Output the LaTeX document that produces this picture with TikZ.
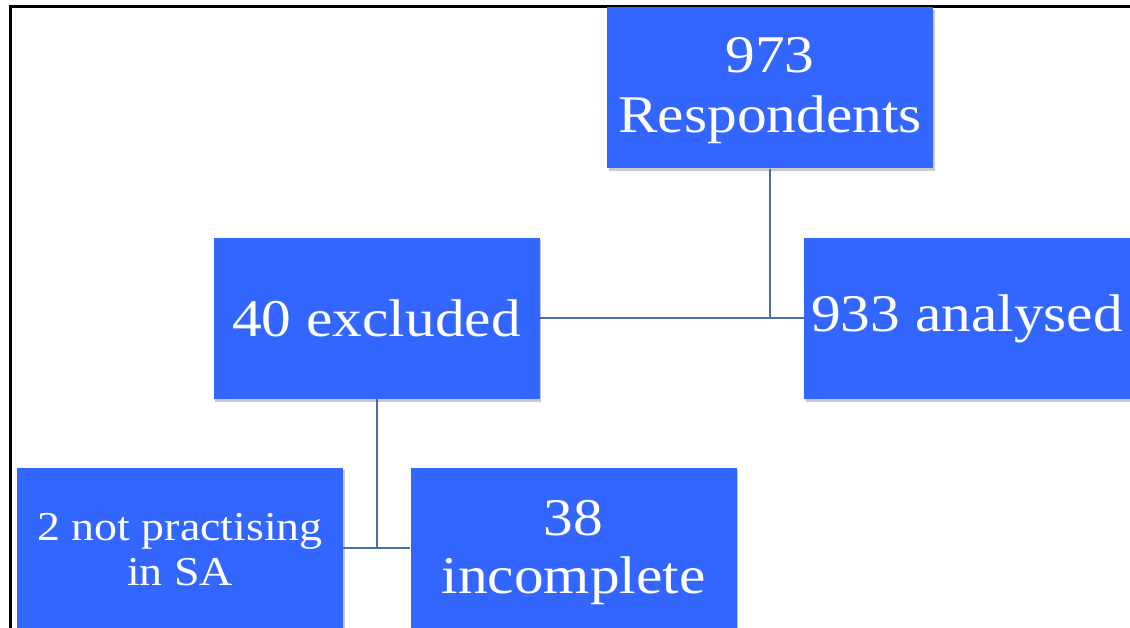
\documentclass[tikz,border=0pt]{standalone}
\usepackage{fontspec}
\setmainfont{Liberation Serif}[FakeStretch=1.12]
\usetikzlibrary{shadows}
\definecolor{boxblue}{RGB}{51,102,255}
\definecolor{linkblue}{RGB}{74,111,165}
\tikzset{
  box/.style={fill=boxblue, minimum width=326pt, minimum height=161pt, inner sep=0pt,
    drop shadow={shadow xshift=1.5pt, shadow yshift=-2.5pt, opacity=0.35, fill=black!60}},
  boxtext/.style={text=white, align=center, inner sep=0pt},
  bigtext/.style={font=\fontsize{53}{60}\selectfont},
  smalltext/.style={font=\fontsize{41}{45}\selectfont},
  link/.style={draw=linkblue, line width=2pt},
  frame/.style={draw=black, line width=3pt}
}
\begin{document}
\begin{tikzpicture}[x=1pt,y=-1pt]
\useasboundingbox (0,0) rectangle (1130,628);
\clip (0,0) rectangle (1130,628);
\fill[white] (0,0) rectangle (1130,628);
\coordinate (fa) at (10,628);
\coordinate (fb) at (10,7);
\coordinate (fc) at (1131,7);
\draw[frame] (fa) -- (fb) -- (fc);
\node[box] (resp) at (770,88) {};
\node[box] (excl) at (376.5,318.5) {};
\node[box] (anal) at (967,318.5) {};
\node[box] (notp) at (180,548) {};
\node[box] (inc) at (573.5,548) {};
\node[boxtext, bigtext] (respt) at ([yshift=-3pt]resp.center) {973\\Respondents};
\node[boxtext, bigtext] (exclt) at (excl.center) {40 excluded};
\node[boxtext, bigtext] (analt) at (anal.center) {933 analysed};
\node[boxtext, smalltext] (notpt) at ([yshift=-2pt]notp.center) {2 not practising\\in SA};
\node[boxtext, font=\fontsize{53}{58}\selectfont] (inct) at ([yshift=-5pt]inc.center) {38\\incomplete};
\draw[link] (excl.east) -- (anal.west);
\draw[link] (resp.south) -- (resp.south |- excl.east);
\draw[link] (notp.east) -- (inc.west);
\draw[link] (excl.south) -- (excl.south |- inc.west);
\end{tikzpicture}
\end{document}
